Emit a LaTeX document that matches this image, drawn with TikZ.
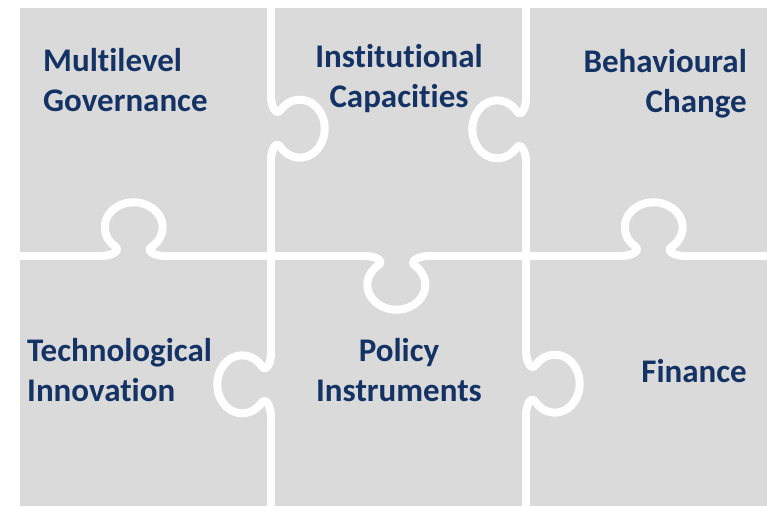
\documentclass[tikz,border=0pt]{standalone}
\usepackage{fontspec}
\setmainfont{Carlito}[Ligatures={NoCommon,NoRare}]
\definecolor{piecegrey}{RGB}{218,218,218}
\definecolor{navy}{RGB}{20,50,100}
\tikzset{
  seam/.style={draw=white, line width=8pt, line cap=round, line join=round},
  lbl/.style={font=\bfseries\fontsize{33}{40}\selectfont, text=navy, inner sep=0pt},
  knob/.pic={\draw[seam] (-32,0) .. controls (-22,0) and (-11.5,5) .. (-18,9.6)
      arc[start angle=230, end angle=-50, x radius=29, y radius=25]
      .. controls (11.5,5) and (22,0) .. (32,0);}
}
\begin{document}
\begin{tikzpicture}[x=1pt,y=1pt]
\useasboundingbox (0,0) rectangle (767,506);
\fill[piecegrey] (20,0) rectangle (767,498);
% horizontal seam
\draw[seam] (20,250) -- (101,250);
\pic at (133,250) {knob};
\draw[seam] (165,250) -- (365,250);
\pic[rotate=180] at (397,250) {knob};
\draw[seam] (429,250) -- (621,250);
\pic at (653,250) {knob};
\draw[seam] (685,250) -- (780,250);
% first vertical seam
\draw[seam] (271,520) -- (271,410);
\pic[rotate=-90] at (271,378) {knob};
\draw[seam] (271,346) -- (271,153);
\pic[rotate=90] at (271,121) {knob};
\draw[seam] (271,89) -- (271,-10);
% second vertical seam
\draw[seam] (526,520) -- (526,408);
\pic[rotate=90] at (526,376) {knob};
\draw[seam] (526,344) -- (526,155);
\pic[rotate=-90] at (526,123) {knob};
\draw[seam] (526,91) -- (526,-10);
% labels
\node[lbl, anchor=west, align=left] (mg) at (43,425.5) {Multilevel\\Governance};
\node[lbl, align=center] (ic) at (399,427) {Institutional\\Capacities};
\node[lbl, anchor=east, align=right] (bc) at (747,422.5) {Behavioural\\Change};
\node[lbl, anchor=west, align=left] (ti) at (27,135.5) {Technological\\Innovation};
\node[lbl, align=center] (pi) at (399,135.5) {Policy\\Instruments};
\node[lbl, anchor=east] (fi) at (747,134.5) {Finance};
\end{tikzpicture}
\end{document}
